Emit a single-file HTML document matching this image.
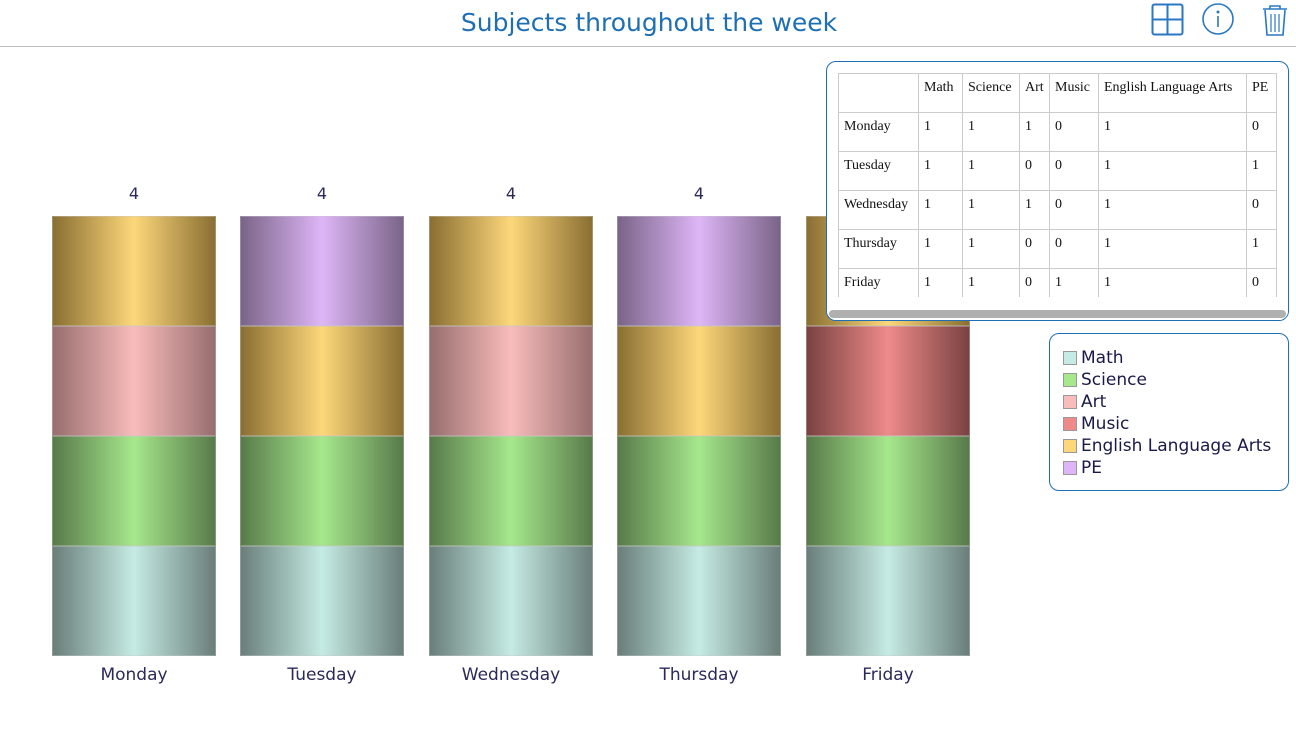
<!DOCTYPE html>
<html><head><style>
*{margin:0;padding:0;box-sizing:border-box}
body{width:1296px;height:748px;background:#fff;position:relative;overflow:hidden;font-family:"DejaVu Sans","Liberation Sans",sans-serif}
.title{position:absolute;left:0;width:1298px;top:8px;text-align:center;font-size:25px;color:#1e6fb4}
.hline{position:absolute;left:0;top:46px;width:1296px;height:1px;background:#bbb}
.bar{position:absolute;width:164px;height:110px;border:1px solid rgba(200,200,200,0.4)}
.num{position:absolute;width:164px;text-align:center;font-size:16px;color:#2a2a5a;top:184px}
.day{position:absolute;width:164px;text-align:center;font-size:17px;color:#2a2a5a;top:665px}
.m{background:linear-gradient(90deg,#6a7e7a,#c5ebe4 50%,#6a7e7a)}
.s{background:linear-gradient(90deg,#587a4a,#a6e88c 50%,#587a4a)}
.a{background:linear-gradient(90deg,#986e6e,#f8bcbb 50%,#986e6e)}
.e{background:linear-gradient(90deg,#8a6f33,#fdd77a 50%,#8a6f33)}
.p{background:linear-gradient(90deg,#7a6488,#deb6f7 50%,#7a6488)}
.u{background:linear-gradient(90deg,#7a4242,#ee8a8a 50%,#7a4242)}
.tbox{position:absolute;left:826px;top:61px;width:463px;height:260px;border:1px solid #1e6fb4;border-radius:10px;background:#fff;overflow:hidden}
table{position:absolute;left:11px;top:11px;border-collapse:collapse;font-family:"Liberation Serif",serif;font-size:14px;color:#111}
td{border:1px solid #ccc;height:39px;padding:6px 5px 0 5px;vertical-align:top;white-space:nowrap}
.sb{position:absolute;left:2px;bottom:2px;width:457px;height:8px;background:#b0b0b0;border-radius:4px}
.leg{position:absolute;left:1049px;top:333px;width:240px;height:158px;border:1px solid #1e6fb4;border-radius:10px;background:#fff}
.li{position:absolute;left:13px;font-size:17px;color:#1a1a4a;height:22px;line-height:22px}
.li i{display:inline-block;width:14px;height:14px;border:1px solid #999;vertical-align:-2px;margin-right:4px}
</style></head><body>
<div class="title">Subjects throughout the week</div>
<div class="hline"></div>
<svg style="position:absolute;left:1150px;top:2px" width="146" height="36">
<rect x="2.5" y="2.5" width="30" height="30" rx="2" fill="none" stroke="#2a78c4" stroke-width="2"/>
<line x1="17.5" y1="2.5" x2="17.5" y2="32.5" stroke="#2a78c4" stroke-width="2"/>
<line x1="2.5" y1="17.5" x2="32.5" y2="17.5" stroke="#2a78c4" stroke-width="2"/>
<circle cx="68" cy="17" r="15" fill="none" stroke="#2a78c4" stroke-width="1.6"/>
<circle cx="68" cy="10" r="1.5" fill="#2a78c4"/>
<line x1="68" y1="14" x2="68" y2="25" stroke="#2a78c4" stroke-width="1.6"/>
<path d="M113 7h24M120 7v-3h10v3M115 8l2 25h16l2-25" fill="none" stroke="#2a78c4" stroke-width="1.6"/>
<path d="M121 12v18M125 12v18M129 12v18" stroke="#2a78c4" stroke-width="1.2"/>
</svg>

<div class="num" style="left:52px">4</div><div class="num" style="left:240px">4</div><div class="num" style="left:429px">4</div><div class="num" style="left:617px">4</div><div class="num" style="left:806px">4</div>

<div class="bar e" style="left:52px;top:216px"></div><div class="bar a" style="left:52px;top:326px"></div><div class="bar s" style="left:52px;top:436px"></div><div class="bar m" style="left:52px;top:546px"></div>
<div class="bar p" style="left:240px;top:216px"></div><div class="bar e" style="left:240px;top:326px"></div><div class="bar s" style="left:240px;top:436px"></div><div class="bar m" style="left:240px;top:546px"></div>
<div class="bar e" style="left:429px;top:216px"></div><div class="bar a" style="left:429px;top:326px"></div><div class="bar s" style="left:429px;top:436px"></div><div class="bar m" style="left:429px;top:546px"></div>
<div class="bar p" style="left:617px;top:216px"></div><div class="bar e" style="left:617px;top:326px"></div><div class="bar s" style="left:617px;top:436px"></div><div class="bar m" style="left:617px;top:546px"></div>
<div class="bar e" style="left:806px;top:216px"></div><div class="bar u" style="left:806px;top:326px"></div><div class="bar s" style="left:806px;top:436px"></div><div class="bar m" style="left:806px;top:546px"></div>

<div class="day" style="left:52px">Monday</div><div class="day" style="left:240px">Tuesday</div><div class="day" style="left:429px">Wednesday</div><div class="day" style="left:617px">Thursday</div><div class="day" style="left:806px">Friday</div>

<div class="tbox">
<table>
<tr><td style="width:80px"></td><td style="width:44px">Math</td><td style="width:57px">Science</td><td style="width:30px">Art</td><td style="width:49px">Music</td><td style="width:148px">English Language Arts</td><td style="width:30px">PE</td></tr>
<tr><td>Monday</td><td>1</td><td>1</td><td>1</td><td>0</td><td>1</td><td>0</td></tr>
<tr><td>Tuesday</td><td>1</td><td>1</td><td>0</td><td>0</td><td>1</td><td>1</td></tr>
<tr><td>Wednesday</td><td>1</td><td>1</td><td>1</td><td>0</td><td>1</td><td>0</td></tr>
<tr><td>Thursday</td><td>1</td><td>1</td><td>0</td><td>0</td><td>1</td><td>1</td></tr>
<tr><td>Friday</td><td>1</td><td>1</td><td>0</td><td>1</td><td>1</td><td>0</td></tr>
</table>
<div style="position:absolute;left:0;top:235px;width:463px;height:30px;background:#fff"></div>
<div class="sb"></div>
</div>

<div class="leg">
<div class="li" style="top:13px"><i style="background:#c5ebe4"></i>Math</div>
<div class="li" style="top:35px"><i style="background:#a6e88c"></i>Science</div>
<div class="li" style="top:57px"><i style="background:#f8bcbb"></i>Art</div>
<div class="li" style="top:79px"><i style="background:#ee8a8a"></i>Music</div>
<div class="li" style="top:101px"><i style="background:#fdd77a"></i>English Language Arts</div>
<div class="li" style="top:123px"><i style="background:#deb6f7"></i>PE</div>
</div>
</body></html>
